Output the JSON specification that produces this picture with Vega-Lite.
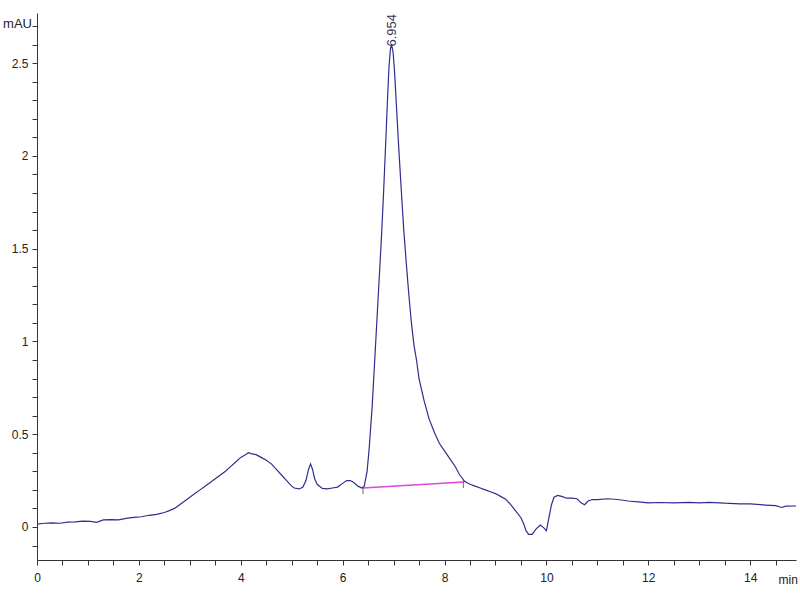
{
  "$schema": "https://vega.github.io/schema/vega-lite/v6.json",
  "width": 759,
  "height": 547,
  "autosize": {"type": "none"},
  "padding": {"left": 37, "top": 13, "right": 4, "bottom": 40},
  "background": "white",
  "config": {"view": {"stroke": null}, "font": "Liberation Sans"},
  "datasets": {
    "trace": [
      {"t":0,"v":0.015},{"t":0.15,"v":0.02},{"t":0.3,"v":0.022},{"t":0.45,"v":0.02},{"t":0.6,"v":0.026},{"t":0.75,"v":0.028},{"t":0.9,"v":0.032},{"t":1.05,"v":0.03},{"t":1.17,"v":0.025},{"t":1.3,"v":0.038},{"t":1.45,"v":0.04},{"t":1.6,"v":0.038},{"t":1.75,"v":0.046},{"t":1.9,"v":0.052},{"t":2.05,"v":0.055},{"t":2.2,"v":0.063},{"t":2.35,"v":0.068},{"t":2.5,"v":0.078},{"t":2.6,"v":0.088},{"t":2.7,"v":0.1},{"t":2.8,"v":0.12},{"t":2.9,"v":0.14},{"t":3.0,"v":0.16},{"t":3.1,"v":0.18},{"t":3.2,"v":0.2},{"t":3.3,"v":0.22},{"t":3.4,"v":0.24},{"t":3.5,"v":0.26},{"t":3.6,"v":0.28},{"t":3.7,"v":0.3},{"t":3.8,"v":0.325},{"t":3.9,"v":0.35},{"t":4.0,"v":0.375},{"t":4.1,"v":0.39},{"t":4.15,"v":0.4},{"t":4.2,"v":0.395},{"t":4.3,"v":0.39},{"t":4.4,"v":0.375},{"t":4.5,"v":0.36},{"t":4.6,"v":0.34},{"t":4.7,"v":0.31},{"t":4.8,"v":0.28},{"t":4.9,"v":0.25},{"t":5.0,"v":0.22},{"t":5.05,"v":0.21},{"t":5.15,"v":0.205},{"t":5.22,"v":0.215},{"t":5.28,"v":0.25},{"t":5.33,"v":0.31},{"t":5.37,"v":0.34},{"t":5.41,"v":0.31},{"t":5.45,"v":0.26},{"t":5.5,"v":0.23},{"t":5.6,"v":0.208},{"t":5.7,"v":0.205},{"t":5.8,"v":0.21},{"t":5.9,"v":0.215},{"t":6.0,"v":0.235},{"t":6.08,"v":0.25},{"t":6.15,"v":0.25},{"t":6.22,"v":0.24},{"t":6.3,"v":0.22},{"t":6.38,"v":0.21},{"t":6.42,"v":0.215},{"t":6.48,"v":0.3},{"t":6.52,"v":0.42},{"t":6.58,"v":0.65},{"t":6.64,"v":0.95},{"t":6.7,"v":1.25},{"t":6.76,"v":1.55},{"t":6.8,"v":1.78},{"t":6.85,"v":2.1},{"t":6.88,"v":2.3},{"t":6.91,"v":2.48},{"t":6.94,"v":2.58},{"t":6.96,"v":2.6},{"t":6.99,"v":2.56},{"t":7.02,"v":2.45},{"t":7.05,"v":2.3},{"t":7.1,"v":2.05},{"t":7.15,"v":1.82},{"t":7.2,"v":1.6},{"t":7.25,"v":1.42},{"t":7.3,"v":1.25},{"t":7.35,"v":1.1},{"t":7.4,"v":0.98},{"t":7.45,"v":0.9},{"t":7.5,"v":0.8},{"t":7.6,"v":0.68},{"t":7.7,"v":0.58},{"t":7.8,"v":0.51},{"t":7.9,"v":0.45},{"t":8.0,"v":0.41},{"t":8.1,"v":0.37},{"t":8.2,"v":0.33},{"t":8.3,"v":0.28},{"t":8.4,"v":0.245},{"t":8.5,"v":0.23},{"t":8.6,"v":0.22},{"t":8.7,"v":0.21},{"t":8.8,"v":0.2},{"t":8.9,"v":0.19},{"t":9.0,"v":0.18},{"t":9.1,"v":0.165},{"t":9.2,"v":0.15},{"t":9.3,"v":0.12},{"t":9.4,"v":0.085},{"t":9.5,"v":0.05},{"t":9.55,"v":0.02},{"t":9.6,"v":-0.02},{"t":9.65,"v":-0.04},{"t":9.72,"v":-0.04},{"t":9.8,"v":-0.01},{"t":9.88,"v":0.01},{"t":9.95,"v":-0.005},{"t":10.0,"v":-0.02},{"t":10.05,"v":0.05},{"t":10.1,"v":0.12},{"t":10.15,"v":0.16},{"t":10.22,"v":0.17},{"t":10.3,"v":0.165},{"t":10.4,"v":0.155},{"t":10.5,"v":0.155},{"t":10.6,"v":0.152},{"t":10.68,"v":0.13},{"t":10.75,"v":0.12},{"t":10.82,"v":0.14},{"t":10.9,"v":0.148},{"t":11.0,"v":0.147},{"t":11.2,"v":0.152},{"t":11.4,"v":0.148},{"t":11.6,"v":0.14},{"t":11.8,"v":0.135},{"t":12.0,"v":0.13},{"t":12.2,"v":0.132},{"t":12.5,"v":0.13},{"t":12.8,"v":0.133},{"t":13.0,"v":0.13},{"t":13.2,"v":0.133},{"t":13.5,"v":0.128},{"t":13.8,"v":0.125},{"t":14.0,"v":0.124},{"t":14.3,"v":0.118},{"t":14.5,"v":0.115},{"t":14.62,"v":0.105},{"t":14.7,"v":0.112},{"t":14.9,"v":0.113}
    ],
    "baseline": [
      {"t":6.4,"v":0.21},{"t":8.37,"v":0.242}
    ],
    "peak": [
      {"t":6.96,"v":2.6,"label":"6.954"}
    ]
  },
  "encoding": {
    "x": {
      "field": "t", "type": "quantitative",
      "scale": {"domain": [0, 14.9], "nice": false, "zero": false},
      "axis": {
        "title": "min", "titleFontWeight": "normal", "titleFontSize": 12, "titleColor": "#222",
        "titleAnchor": "start", "titleAlign": "left", "titleX": 741, "titleY": 19, "titleBaseline": "middle",
        "values": [0,0.5,1,1.5,2,2.5,3,3.5,4,4.5,5,5.5,6,6.5,7,7.5,8,8.5,9,9.5,10,10.5,11,11.5,12,12.5,13,13.5,14,14.5],
        "labelExpr": "datum.value % 2 == 0 ? format(datum.value, '~g') : ''",
        "grid": false, "domainColor": "#333", "tickColor": "#333", "tickSize": 5,
        "labelFontSize": 12, "labelColor": "#222", "labelPadding": 7, "labelFlush": false
      }
    },
    "y": {
      "field": "v", "type": "quantitative",
      "scale": {"domain": [-0.178, 2.77], "nice": false, "zero": false},
      "axis": {
        "title": "mAU", "titleFontWeight": "normal", "titleFontSize": 13, "titleColor": "#222",
        "titleAngle": 0, "titleX": -20, "titleY": 10, "titleAlign": "center", "titleBaseline": "middle",
        "values": [-0.1,0,0.1,0.2,0.3,0.4,0.5,0.6,0.7,0.8,0.9,1,1.1,1.2,1.3,1.4,1.5,1.6,1.7,1.8,1.9,2,2.1,2.2,2.3,2.4,2.5,2.6,2.7],
        "labelExpr": "abs(datum.value*2 - round(datum.value*2)) < 0.001 ? format(datum.value, '~g') : ''",
        "grid": false, "domainColor": "#333", "tickColor": "#333", "tickSize": 5,
        "labelFontSize": 12, "labelColor": "#222", "labelPadding": 4, "labelFlush": false
      }
    }
  },
  "layer": [
    {
      "data": {"name": "trace"},
      "mark": {"type": "line", "color": "#2e2e8e", "strokeWidth": 1.2}
    },
    {
      "data": {"name": "baseline"},
      "mark": {"type": "line", "color": "#e046d8", "strokeWidth": 1.5}
    },
    {
      "data": {"name": "baseline"},
      "mark": {"type": "tick", "orient": "vertical", "size": 8, "thickness": 1, "color": "#333", "yOffset": 2}
    },
    {
      "data": {"name": "peak"},
      "mark": {"type": "text", "angle": 270, "align": "left", "baseline": "middle", "dx": -2, "fontSize": 13, "color": "#333355"},
      "encoding": {"text": {"field": "label"}}
    }
  ]
}
